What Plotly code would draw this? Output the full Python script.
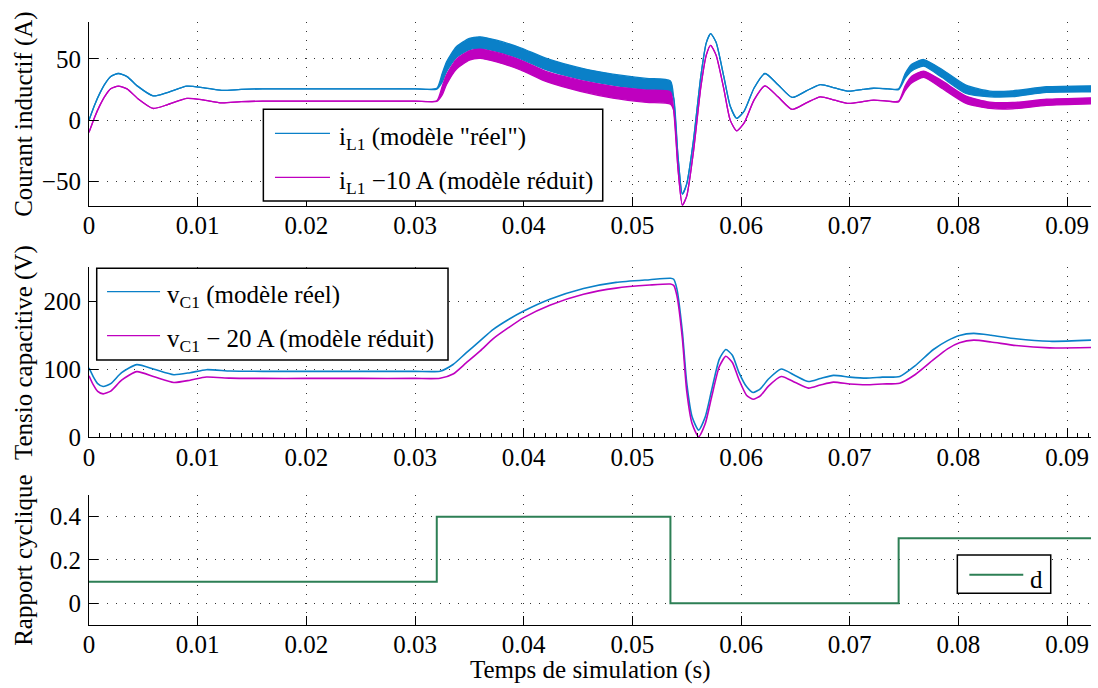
import plotly.graph_objects as go

# ---------------- data ----------------
# Top panel: inductor current, centre value and half-width of the switching ripple band
T_I = [0, 0.0005, 0.001, 0.0015, 0.002, 0.0027, 0.0035, 0.0045, 0.0059, 0.0072,
       0.009, 0.0105, 0.0122, 0.014, 0.016, 0.02, 0.025, 0.03, 0.032, 0.0325,
       0.0329, 0.0338, 0.035, 0.036, 0.0375, 0.0397, 0.0421, 0.0452, 0.0482, 0.0513,
       0.0535, 0.0538, 0.0542, 0.0546, 0.055, 0.0556, 0.0563, 0.0568, 0.0572, 0.0577,
       0.0584, 0.059, 0.0596, 0.0603, 0.0612, 0.0622, 0.0634, 0.0647, 0.066, 0.0673,
       0.0686, 0.0699, 0.0712, 0.0722, 0.0735, 0.0745, 0.0751, 0.0757, 0.0768, 0.0785,
       0.0807, 0.0829, 0.085, 0.0881, 0.0922]
IL_REEL_C = [0, 12, 22, 30, 35.5, 38, 35.5, 27.5, 19.8, 22.5,
             27.7, 26.5, 24.2, 25, 25.5, 25.5, 25.5, 25.5, 25.6, 34.5,
             43.5, 55.4, 62, 63.2, 60.6, 54.5, 45.6, 38, 33, 29.5,
             27.5, 18, -30, -60.3, -52, -18, 36, 63, 70.6, 63.4,
             36, 11.5, 1.4, 7.6, 26.2, 38, 28.9, 18.5, 23.8, 29,
             26.3, 23.6, 25, 26, 25.5, 25.2, 36, 42.8, 46.7, 38,
             25.1, 21.3, 21.5, 24.9, 25.5]
IL_REEL_R = [0, 0, 0, 0, 0, 0, 0, 0, 0, 0,
             0, 0, 0, 0, 0, 0, 0, 0, 0.3, 3.5,
             4, 4.4, 4.6, 4.7, 4.6, 4.5, 4.7, 4.6, 4.5, 4.5,
             4.5, 0, 0, 0, 0, 0, 0, 0, 0, 0,
             0, 0, 0, 0, 0, 0, 0, 0, 0, 0,
             0, 0, 0, 0, 0, 0.3, 2, 2.8, 2.7, 3.3,
             3.4, 2.3, 2.4, 2.3, 2.5]
IL_RED_C = [-10, 2, 12, 20, 25.5, 27.7, 25.5, 17.5, 9.5, 12.5,
            17.7, 16.5, 14, 15, 15.5, 15.5, 15.5, 15.5, 15.5, 24,
            33, 45.5, 52.7, 54.1, 51.3, 45, 35.4, 28, 22.8, 19.5,
            18, 8, -40, -69.3, -62, -27, 27, 53, 61, 53,
            26, 0, -8.7, -2, 16.5, 28, 19, 8.7, 14, 19,
            16.3, 13.6, 15, 16.3, 15.5, 15.2, 26, 33, 37.4, 28.9,
            16.6, 12.1, 11.8, 14.5, 15.7]
IL_RED_R = [0, 0, 0, 0, 0, 0, 0, 0, 0, 0,
            0, 0, 0, 0, 0, 0, 0, 0, 0.3, 3.5,
            4, 4, 3.8, 3.8, 3.9, 4, 4.1, 4.5, 4.8, 5,
            5, 0, 0, 0, 0, 0, 0, 0, 0, 0,
            0, 0, 0, 0, 0, 0, 0, 0, 0, 0,
            0, 0, 0, 0, 0, 0.3, 2, 2.7, 2.6, 3.1,
            3, 2.6, 2.6, 2.5, 2.5]

# Middle panel: capacitor voltage
T_V = [0, 0.0004, 0.0008, 0.0013, 0.002, 0.003, 0.0044, 0.006, 0.0078, 0.0093,
       0.0108, 0.013, 0.016, 0.02, 0.025, 0.03, 0.0323, 0.0335, 0.0347, 0.036,
       0.0372, 0.0386, 0.04, 0.0424, 0.0455, 0.0485, 0.0516, 0.0535, 0.0538, 0.0541,
       0.0546, 0.055, 0.0555, 0.0561, 0.0567, 0.0573, 0.058, 0.0586, 0.0592, 0.0598,
       0.0605, 0.0611, 0.0618, 0.0625, 0.0637, 0.065, 0.0662, 0.0673, 0.0685, 0.07,
       0.0715, 0.073, 0.0746, 0.076, 0.0777, 0.079, 0.0801, 0.0814, 0.083, 0.0853,
       0.0884, 0.0922]
VC_REEL = [102, 89, 79, 74.8, 79, 95, 106.8, 100, 92, 95,
           99.4, 97.5, 97, 97, 97, 97, 97.2, 107, 124, 142,
           158.5, 173, 185.5, 202.8, 218.6, 227.5, 231.4, 233.4, 232, 217.6,
           155, 80, 30, 10.8, 30, 70, 115, 129, 120.5, 95.5,
           74.6, 66, 71.8, 85.3, 100.4, 90.6, 82, 86.5, 91, 88.5,
           87, 88.5, 89.5, 105, 129, 142, 149.6, 152.6, 150, 144.7,
           141, 142.7]
VC_RED = [90.5, 77, 67.5, 64, 68, 84, 96.5, 89, 80.7, 84,
          88.6, 87, 86.6, 86.6, 86.6, 86.6, 86.8, 93, 109.3, 127,
          145, 161, 175.8, 194, 210, 219, 223.5, 225, 223, 207.7,
          145, 68, 20, 1, 20, 60, 104, 119, 110, 85,
          62, 56, 61.5, 75, 89.5, 80.5, 72.4, 77, 81.2, 78.5,
          77.3, 78.5, 79.6, 92, 114, 130, 138.8, 142.7, 140, 134.8,
          131.4, 132]

# Bottom panel: duty cycle (step changes)
T_D = [0, 0.032, 0.0535, 0.0745, 0.0922]
D_VAL = [0.1, 0.4, 0.0, 0.3, 0.3]

X_TICKS = [0, 0.01, 0.02, 0.03, 0.04, 0.05, 0.06, 0.07, 0.08, 0.09]
X_TICK_LABELS = ["0", "0.01", "0.02", "0.03", "0.04", "0.05", "0.06", "0.07", "0.08", "0.09"]
Y1_TICKS = [-50, 0, 50]
Y1_LABELS = ["\u221250", "0", "50"]
Y2_TICKS = [0, 100, 200]
Y2_LABELS = ["0", "100", "200"]
Y3_TICKS = [0, 0.2, 0.4]
Y3_LABELS = ["0", "0.2", "0.4"]
X_RANGE = [0, 0.0922]

# ---------------- styling ----------------
BLUE = "#0a80c8"
MAGENTA = "#bf00bf"
GREEN = "#2d7f55"
FONT = "Liberation Serif, Times New Roman, serif"
FS = 25

fig = go.Figure()


def band(t, c, r, color, xa, ya):
    lo = [ci - ri for ci, ri in zip(c, r)]
    hi = [ci + ri for ci, ri in zip(c, r)]
    fig.add_trace(go.Scatter(x=t, y=lo, mode="lines", xaxis=xa, yaxis=ya,
                             line=dict(color=color, width=1.3, shape="spline", smoothing=0.6),
                             showlegend=False, hoverinfo="skip"))
    fig.add_trace(go.Scatter(x=t, y=hi, mode="lines", xaxis=xa, yaxis=ya, fill="tonexty",
                             fillcolor=color,
                             line=dict(color=color, width=1.3, shape="spline", smoothing=0.6),
                             showlegend=False))


band(T_I, IL_REEL_C, IL_REEL_R, BLUE, "x", "y")
band(T_I, IL_RED_C, IL_RED_R, MAGENTA, "x", "y")

fig.add_trace(go.Scatter(x=T_V, y=VC_REEL, mode="lines", xaxis="x2", yaxis="y2",
                         line=dict(color=BLUE, width=1.6, shape="spline", smoothing=0.6),
                         showlegend=False))
fig.add_trace(go.Scatter(x=T_V, y=VC_RED, mode="lines", xaxis="x2", yaxis="y2",
                         line=dict(color=MAGENTA, width=1.6, shape="spline", smoothing=0.6),
                         showlegend=False))

fig.add_trace(go.Scatter(x=T_D, y=D_VAL, mode="lines", xaxis="x3", yaxis="y3",
                         line=dict(color=GREEN, width=2, shape="hv"), showlegend=False))

tickfont = dict(family=FONT, size=FS, color="black")
common = dict(showline=True, linecolor="black", linewidth=1.2, ticks="inside", ticklen=9,
              tickwidth=1, tickcolor="black", showgrid=True, gridcolor="#333333",
              griddash="1px,8px", gridwidth=1, zeroline=False, tickfont=tickfont, mirror=False,
              automargin=False)
xcommon = dict(range=X_RANGE, tickvals=X_TICKS, ticktext=X_TICK_LABELS,
               ticklabelstandoff=-3, domain=[0, 1])

DOM1 = [0.6949, 1.0]
DOM2 = [0.311, 0.5937]
DOM3 = [0.0, 0.2156]

fig.update_layout(
    template="none",
    width=1098, height=688,
    margin=dict(l=89, r=7, t=22, b=63, autoexpand=False),
    paper_bgcolor="white", plot_bgcolor="white",
    showlegend=False,
    font=dict(family=FONT, size=FS, color="black"),
    xaxis=dict(anchor="y", **xcommon, **common),
    yaxis=dict(domain=DOM1, anchor="x", range=[-70, 80], tickvals=Y1_TICKS,
               ticktext=Y1_LABELS, ticklabelstandoff=2, **common),
    xaxis2=dict(anchor="y2",
                minor=dict(ticks="inside", ticklen=4, dtick=0.001, tickcolor="black", showgrid=False),
                **xcommon, **common),
    yaxis2=dict(domain=DOM2, anchor="x2", range=[0, 250], tickvals=Y2_TICKS,
                ticktext=Y2_LABELS, ticklabelstandoff=2, **common),
    xaxis3=dict(anchor="y3", **xcommon, **common),
    yaxis3=dict(domain=DOM3, anchor="x3", range=[-0.1, 0.5], tickvals=Y3_TICKS,
                ticktext=Y3_LABELS, ticklabelstandoff=2, **common),
)

# ---------------- legends (boxes, samples, texts) ----------------
shapes = []
annots = []


def legend_box(xr, yr, x0, x1, y0, y1):
    shapes.append(dict(type="rect", xref=xr, yref=yr, x0=x0, x1=x1, y0=y0, y1=y1,
                       line=dict(color="black", width=1.5), fillcolor="white", layer="above"))


def legend_item(xr, yr, lx0, lx1, ly, tx, text, color, width):
    shapes.append(dict(type="line", xref=xr, yref=yr, x0=lx0, x1=lx1, y0=ly, y1=ly,
                       line=dict(color=color, width=width), layer="above"))
    annots.append(dict(xref=xr, yref=yr, x=tx, y=ly, text=text, showarrow=False,
                       xanchor="left", yanchor="middle", yshift=-5,
                       font=dict(family=FONT, size=FS, color="black")))


legend_box("x domain", "y domain", 0.174, 0.5127, 0.0272, 0.5255)
legend_item("x domain", "y domain", 0.1856, 0.2405, 0.395, 0.2472,
            "i<sub>L1</sub> (modèle \"réel\")", BLUE, 1.3)
legend_item("x domain", "y domain", 0.1856, 0.2405, 0.156, 0.2472,
            "i<sub>L1</sub> \u221210 A (modèle réduit)", MAGENTA, 1.3)

legend_box("x2 domain", "y2 domain", 0.0077, 0.3583, 0.4545, 0.992)
legend_item("x2 domain", "y2 domain", 0.018, 0.0709, 0.855, 0.0758,
            "v<sub>C1</sub> (modèle réel)", BLUE, 1.3)
legend_item("x2 domain", "y2 domain", 0.018, 0.0709, 0.597, 0.0758,
            "v<sub>C1</sub> \u2212 20 A (modèle réduit)", MAGENTA, 1.3)

legend_box("x3 domain", "y3 domain", 0.8666, 0.9598, 0.2438, 0.5385)
legend_item("x3 domain", "y3 domain", 0.8786, 0.9324, 0.387, 0.9371, "d", GREEN, 2)


# axis titles
def ytitle(text, dom):
    annots.append(dict(xref="paper", yref="paper", x=-0.065, y=(dom[0] + dom[1]) / 2,
                       text=text, textangle=-90, showarrow=False, xanchor="center",
                       yanchor="middle", font=dict(family=FONT, size=FS, color="black")))


ytitle("Courant inductif (A)", DOM1)
ytitle("Tensio capacitive (V)", DOM2)
ytitle("Rapport cyclique", DOM3)
annots.append(dict(xref="paper", yref="paper", x=0.5, y=-0.075, text="Temps de simulation (s)",
                   showarrow=False, xanchor="center", yanchor="middle",
                   font=dict(family=FONT, size=FS, color="black")))

fig.update_layout(shapes=shapes, annotations=annots)

# the page's default body margin would shift the figure by 8 px; remove it
fig.write_html("out.html", config={"displayModeBar": False},
               post_script="document.body.style.margin='0px';")
